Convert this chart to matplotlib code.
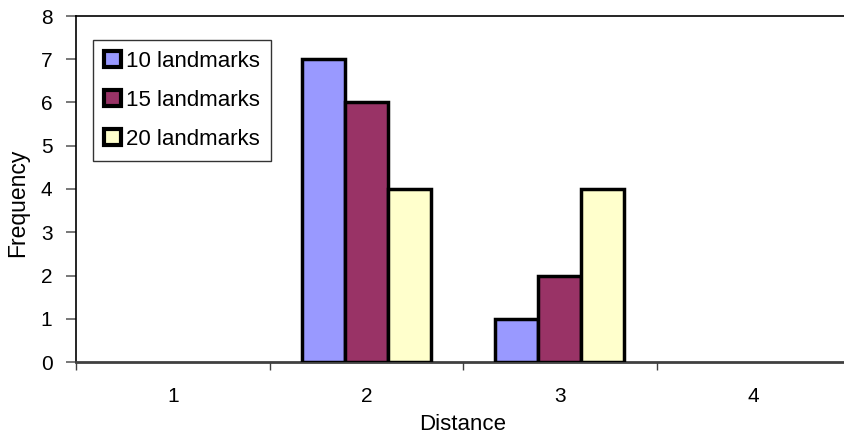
import numpy as np
import matplotlib.pyplot as plt

plt.rcParams['font.family'] = ['Liberation Sans', 'DejaVu Sans']

distances = ["1", "2", "3", "4"]
series_names = ["10 landmarks", "15 landmarks", "20 landmarks"]
freq_10 = [0, 7, 1, 0]
freq_15 = [0, 6, 2, 0]
freq_20 = [0, 4, 4, 0]
colors = ["#9999FF", "#993366", "#FFFFCC"]

fig = plt.figure(figsize=(8.44, 4.4), dpi=100)
ax = fig.add_axes([76 / 844, 78 / 440, 774 / 844, 346 / 440])

x = np.arange(len(distances))
bar_w = 0.222
for i, (vals, name, col) in enumerate(zip([freq_10, freq_15, freq_20], series_names, colors)):
    # zero-height bars are not drawn in the original chart
    heights = np.where(np.array(vals) > 0, vals, np.nan)
    ax.bar(x + (i - 1) * bar_w, heights, width=bar_w, color=col, edgecolor="black",
           linewidth=2.5, label=name, zorder=3)

ax.set_xlim(-0.5, 3.5)
ax.set_ylim(0, 8)
ax.set_yticks(range(0, 9))
ax.set_xticks(x)
ax.set_xticklabels(distances, fontsize=15)
ax.set_xticks(np.arange(-0.5, 3.0, 1.0), minor=True)
ax.tick_params(axis="x", which="major", length=0, pad=18)
ax.tick_params(axis="x", which="minor", direction="out", length=6, width=1, color="#404040")
ax.tick_params(axis="y", direction="out", length=7, width=1.2, color="#606060", labelsize=15, pad=10)

ax.spines["right"].set_visible(False)
ax.spines["top"].set_linewidth(1.2)
ax.spines["left"].set_linewidth(1.2)
ax.spines["bottom"].set_linewidth(2)
ax.spines["bottom"].set_color("#404040")

ax.set_xlabel("Distance", fontsize=16, labelpad=6)
ax.set_ylabel("Frequency", fontsize=16.5)
ax.yaxis.set_label_coords(-0.061, 0.46)

leg = ax.legend(loc="upper left", bbox_to_anchor=(93 / 844, 1 - 40 / 440), bbox_transform=fig.transFigure,
                fontsize=16, frameon=True, fancybox=False, edgecolor="black", borderpad=0.5,
                handlelength=0.75, handleheight=0.75, handletextpad=0.25, labelspacing=0.8, borderaxespad=0)
leg.get_frame().set_linewidth(1)
for h in leg.legend_handles:
    h.set_linewidth(3)

fig.savefig("out.png", dpi=100)
